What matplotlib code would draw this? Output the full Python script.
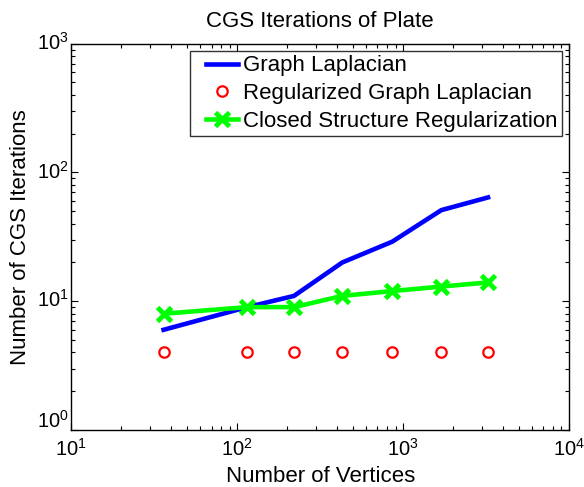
import matplotlib
matplotlib.use("Agg")
import matplotlib.pyplot as plt
from matplotlib.ticker import LogLocator, NullFormatter
from matplotlib.transforms import ScaledTranslation
from matplotlib.lines import Line2D
from matplotlib.legend_handler import HandlerLine2D

plt.rcParams['font.family'] = ['Liberation Sans', 'DejaVu Sans']
plt.rcParams['mathtext.fontset'] = 'custom'
plt.rcParams['mathtext.rm'] = 'Liberation Sans'
plt.rcParams['mathtext.it'] = 'Liberation Sans:italic'

vertices = [36, 115, 220, 430, 860, 1700, 3250]
graph_laplacian = [6, 9, 11, 20, 29, 51, 64]
regularized_gl = [4, 4, 4, 4, 4, 4, 4]
closed_structure = [8, 9, 9, 11, 12, 13, 14]
x_ticks = [1e1, 1e2, 1e3, 1e4]
y_ticks = [1e0, 1e1, 1e2, 1e3]

fig = plt.figure(figsize=(5.84, 4.87), dpi=100)
ax = fig.add_axes([71.3/584, 57/487, (569-71.3)/584, (430-43.7)/487])

ax.plot(vertices, graph_laplacian, color='#0000ff', lw=3.3, label='Graph Laplacian')
ax.plot(vertices, regularized_gl, linestyle='none', marker='o', ms=7.5, mfc='none',
        mec='#ff0000', mew=1.6, label='Regularized Graph Laplacian')
ax.plot(vertices, closed_structure, color='#00ff00', lw=3.3, marker='x', ms=10, mew=3.5,
        label='Closed Structure Regularization')

ax.set_xscale('log')
ax.set_yscale('log')
ax.set_xlim(10, 1e4)
ax.set_ylim(1, 1e3)
ax.set_xticks(x_ticks)
ax.set_yticks(y_ticks)
ax.xaxis.set_minor_locator(LogLocator(base=10, subs=range(2, 10), numticks=20))
ax.yaxis.set_minor_locator(LogLocator(base=10, subs=range(2, 10), numticks=20))
ax.xaxis.set_minor_formatter(NullFormatter())
ax.yaxis.set_minor_formatter(NullFormatter())
ax.tick_params(which='both', direction='in', top=True, right=True, labelsize=14.5, width=0.8)
ax.tick_params(which='major', length=5)
ax.tick_params(which='minor', length=3)
ax.tick_params(axis='x', which='major', pad=6)
ax.tick_params(axis='y', which='major', pad=2)
for s in ax.spines.values():
    s.set_linewidth(1.0)

ax.set_xlabel('Number of Vertices', fontsize=16, labelpad=4)
ax.set_ylabel('Number of CGS Iterations', fontsize=16, labelpad=4)
ax.set_title('CGS Iterations of Plate', fontsize=16, pad=12)

leg = ax.legend(loc='upper right', fontsize=16, frameon=True, fancybox=False,
                edgecolor='black', borderpad=0.2, labelspacing=0.3, handlelength=1.95,
                handletextpad=0.2, borderaxespad=0.33,
                handler_map={Line2D: HandlerLine2D(xpad=0.5)})
leg.get_frame().set_linewidth(1.0)

fig.canvas.draw()
yt = ax.yaxis.get_major_ticks()
for i, t in enumerate(yt):
    dy = 11 if i == 0 else 3
    t.label1.set_transform(t.label1.get_transform() + ScaledTranslation(0, dy/100, fig.dpi_scale_trans))

fig.savefig('out.png', dpi=100)
